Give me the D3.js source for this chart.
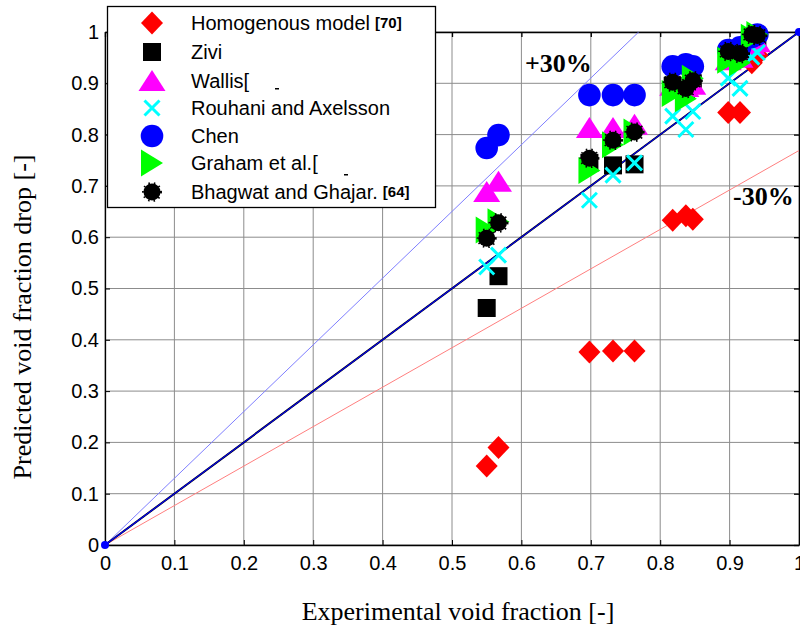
<!DOCTYPE html>
<html><head><meta charset="utf-8">
<script src="https://cdn.jsdelivr.net/npm/d3@7"></script>
<style>body{margin:0;background:#fff}svg{display:block}</style>
</head><body>
<svg id="c" width="800" height="636"></svg>
<script>
// ---- data ----
const tickValues = [0,0.1,0.2,0.3,0.4,0.5,0.6,0.7,0.8,0.9,1];
const tickLabels = ["0","0.1","0.2","0.3","0.4","0.5","0.6","0.7","0.8","0.9","1"];
const xExp = [0.550,0.567, 0.698,0.732,0.763, 0.818,0.837,0.847, 0.898,0.915,0.932,0.940];
const homogenous = [0.154,0.190, 0.376,0.378,0.378, 0.633,0.642,0.635, 0.843,0.843,0.940,0.955];
const zivi       = [0.462,0.524, 0.745,0.740,0.742, 0.895,0.885,0.900, 0.960,0.955,0.990,0.990];
const wallis     = [0.688,0.708, 0.813,0.813,0.819, 0.895,0.893,0.897, 0.945,0.950,0.975,0.980];
const rouhani    = [0.542,0.565, 0.672,0.721,0.745, 0.836,0.810,0.845, 0.910,0.890,0.951,0.960];
const chen       = [0.774,0.799, 0.877,0.877,0.877, 0.933,0.937,0.933, 0.965,0.970,0.990,0.995];
const graham     = [0.614,0.630, 0.730,0.780,0.805, 0.880,0.870,0.910, 0.945,0.940,0.990,0.995];
const bhagwat    = [0.598,0.628, 0.754,0.789,0.805, 0.902,0.890,0.905, 0.962,0.958,0.995,0.993];
const seriesNames = ["Homogenous model","Zivi","Wallis","Rouhani and Axelsson","Chen","Graham et al.","Bhagwat and Ghajar."];
const seriesRefs = ["[70]","","","","","","[64]"];
const diagLine = [[0,0],[1,1]];
const plusLine = [[0,0],[0.769,1]];
const minusLine = [[0,0],[1,0.769]];

// ---- layout ----
const svg = d3.select("#c");
const x = d3.scaleLinear().domain([0,1]).range([105,799]);
const y = d3.scaleLinear().domain([0,1]).range([545,32]);

// grid
const g = svg.append("g");
g.selectAll(".gx").data(tickValues).enter().append("line")
  .attr("x1",d=>x(d)).attr("x2",d=>x(d)).attr("y1",y(0)).attr("y2",y(1))
  .attr("stroke","#8c8c8c").attr("stroke-width",1);
g.selectAll(".gy").data(tickValues).enter().append("line")
  .attr("y1",d=>y(d)).attr("y2",d=>y(d)).attr("x1",x(0)).attr("x2",x(1))
  .attr("stroke","#8c8c8c").attr("stroke-width",1);

// axes
const fontTick = "'Liberation Sans', Arial, sans-serif";
const xAxis = d3.axisBottom(x).tickValues(tickValues).tickFormat((d,i)=>tickLabels[i]).tickSizeInner(-5).tickSizeOuter(0).tickPadding(11);
const yAxis = d3.axisLeft(y).tickValues(tickValues).tickFormat((d,i)=>tickLabels[i]).tickSizeInner(-5).tickSizeOuter(0).tickPadding(6);
const xa = svg.append("g").attr("transform",`translate(0,${y(0)})`).call(xAxis);
const ya = svg.append("g").attr("transform",`translate(${x(0)},0)`).call(yAxis);
[xa,ya].forEach(a=>{
  a.selectAll("text").attr("font-family",fontTick).attr("font-size",20).attr("fill","#000");
  a.selectAll("line").attr("stroke","#000");
  a.select(".domain").attr("stroke","#000").attr("stroke-width",1.3);
});
// top & right axes
const xTop = d3.axisTop(x).tickValues(tickValues).tickFormat("").tickSizeInner(-5).tickSizeOuter(0);
const yRight = d3.axisRight(y).tickValues(tickValues).tickFormat("").tickSizeInner(-5).tickSizeOuter(0);
svg.append("g").attr("transform",`translate(0,${y(1)})`).call(xTop).selectAll("path,line").attr("stroke","#000").attr("stroke-width",1.3);
svg.append("g").attr("transform",`translate(${x(1)},0)`).call(yRight).selectAll("path,line").attr("stroke","#000").attr("stroke-width",1.3);

// reference lines
const line = d3.line().x(d=>x(d[0])).y(d=>y(d[1]));
svg.append("path").attr("d",line(plusLine)).attr("stroke","#7f7fff").attr("stroke-width",1).attr("fill","none");
svg.append("path").attr("d",line(minusLine)).attr("stroke","#ff7f7f").attr("stroke-width",1).attr("fill","none");
svg.append("path").attr("d",line(diagLine)).attr("stroke","#000").attr("stroke-width",2).attr("fill","none");
svg.append("path").attr("d",line(diagLine)).attr("stroke","#0000ff").attr("stroke-width",1.1).attr("fill","none");
svg.selectAll(".ep").data(diagLine).enter().append("circle")
  .attr("cx",d=>x(d[0])).attr("cy",d=>y(d[1])).attr("r",4).attr("fill","#0000ff");

// markers
const markers = [
  {vals:homogenous, draw:(s)=>s.append("path").attr("d","M0,-11.5L11,0L0,11.5L-11,0Z").attr("fill","#ff0000")},
  {vals:zivi, draw:(s)=>s.append("rect").attr("x",-9).attr("y",-9).attr("width",18).attr("height",18).attr("fill","#000")},
  {vals:wallis, draw:(s)=>s.append("path").attr("d","M0,-11L13.5,10L-13.5,10Z").attr("fill","#ff00ff")},
  {vals:rouhani, draw:(s)=>s.append("path").attr("d","M-7.5,-7.5L7.5,7.5M-7.5,7.5L7.5,-7.5").attr("stroke","#00ffff").attr("stroke-width",3).attr("fill","none")},
  {vals:chen, draw:(s)=>s.append("circle").attr("r",11.3).attr("fill","#0000ff")},
  {vals:graham, draw:(s)=>s.append("path").attr("d","M-11,-13.5L11,0L-11,13.5Z").attr("fill","#00ff00")},
  {vals:bhagwat, draw:(s)=>{
     s.append("circle").attr("r",8.5).attr("fill","#000");
     s.append("circle").attr("r",9).attr("fill","none").attr("stroke","#000").attr("stroke-width",2).attr("stroke-dasharray","1.5,4");
  }}
];
markers.forEach(m=>{
  const pts = xExp.map((v,i)=>[v,m.vals[i]]);
  svg.append("g").selectAll("g").data(pts).enter().append("g")
    .attr("transform",d=>`translate(${x(d[0])},${y(d[1])})`)
    .each(function(){ m.draw(d3.select(this)); });
});

// +/- 30% labels
const serif = "'Liberation Serif','Times New Roman',serif";
svg.append("text").attr("x",525).attr("y",72).attr("font-family",serif).attr("font-weight","bold").attr("font-size",26).text("+30%");
svg.append("text").attr("x",733).attr("y",205).attr("font-family",serif).attr("font-weight","bold").attr("font-size",26).text("-30%");

// axis titles
svg.append("text").attr("x",458).attr("y",620).attr("text-anchor","middle").attr("font-family",serif).attr("font-size",26).text("Experimental void fraction [-]");
svg.append("text").attr("transform","translate(31,317) rotate(-90)").attr("text-anchor","middle").attr("font-family",serif).attr("font-size",26).text("Predicted void fraction drop [-]");

// legend
const lg = svg.append("g");
lg.append("rect").attr("x",107.5).attr("y",6.5).attr("width",328).attr("height",201).attr("fill","#fff").attr("stroke","#000").attr("stroke-width",1.3);
const legendY = [23,52,81,108,136,163,192];
markers.forEach((m,i)=>{
  const gg = lg.append("g").attr("transform",`translate(152,${legendY[i]})`);
  m.draw(gg);
  const t = lg.append("text").attr("x",191).attr("y",legendY[i]+7).attr("font-family",fontTick).attr("font-size",20).text(seriesNames[i]);
  if(seriesRefs[i]) t.append("tspan").attr("dx",5).attr("dy",-2).attr("font-weight","bold").attr("font-size",15).text(seriesRefs[i]);
  if(i===2||i===5){
    t.append("tspan").attr("font-weight","300").attr("fill","#000").text("[");
  }
});
// small dash remnants
lg.append("rect").attr("x",275).attr("y",88).attr("width",4).attr("height",1.5).attr("fill","#000");
lg.append("rect").attr("x",344).attr("y",174).attr("width",4).attr("height",1.5).attr("fill","#000");
</script>
</body></html>
